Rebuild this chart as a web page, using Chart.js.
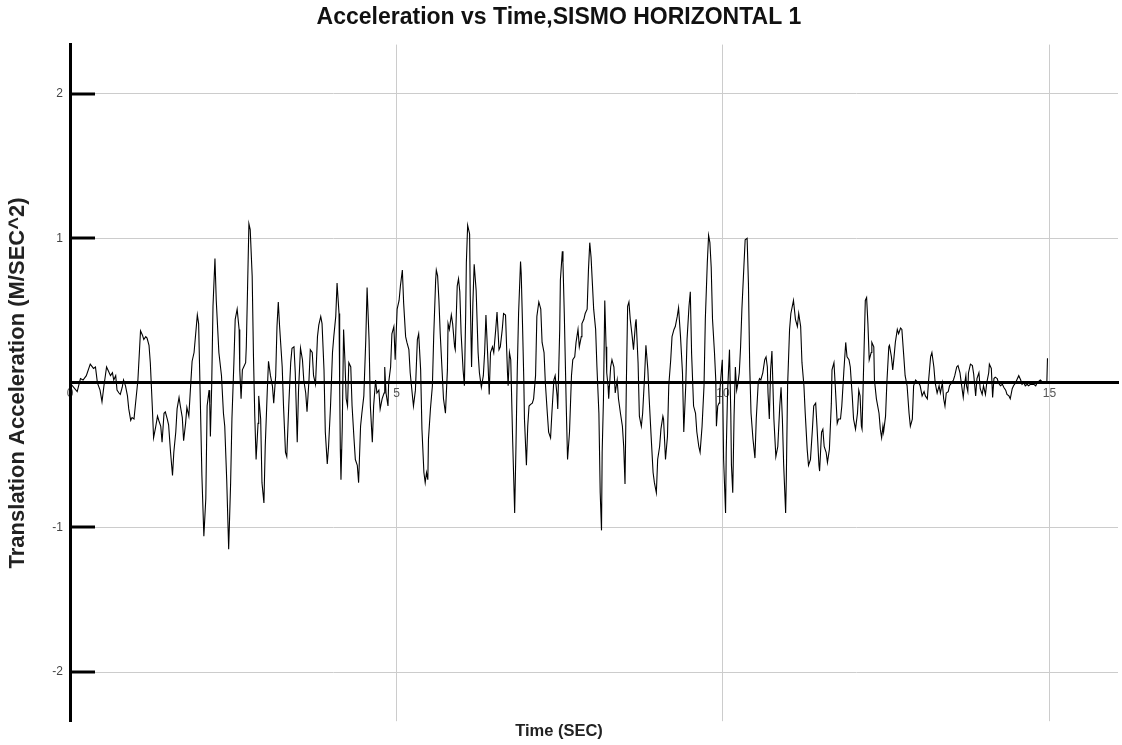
<!DOCTYPE html>
<html>
<head>
<meta charset="utf-8">
<title>Acceleration vs Time</title>
<script src="https://cdn.jsdelivr.net/npm/chart.js@4.4.0/dist/chart.umd.min.js"></script>
<style>
  html, body { margin: 0; padding: 0; background: #fff; }
  #wrap { width: 1122px; height: 745px; }
</style>
</head>
<body>
<div id="wrap"><canvas id="chart" width="1122" height="745"></canvas></div>
<script>
// ground motion record: time (s) and acceleration (m/s^2)
const timeSec = [
  0.00, 0.11, 0.16, 0.20, 0.25, 0.31, 0.36, 0.39, 0.42, 0.46, 0.49, 0.52, 0.56, 0.59, 0.62, 0.65, 0.67, 0.70, 0.72, 0.75,
  0.77, 0.80, 0.82, 0.85, 0.88, 0.90, 0.93, 0.95, 0.98, 1.00, 1.04, 1.08, 1.11, 1.13, 1.16, 1.18, 1.21, 1.23, 1.26, 1.28,
  1.31, 1.34, 1.36, 1.39, 1.41, 1.44, 1.46, 1.49, 1.51, 1.54, 1.57, 1.59, 1.62, 1.64, 1.67, 1.69, 1.72, 1.74, 1.77, 1.79,
  1.82, 1.85, 1.87, 1.90, 1.95, 1.97, 2.00, 2.02, 2.05, 2.08, 2.10, 2.13, 2.14, 2.15, 2.17, 2.19, 2.22, 2.24, 2.28, 2.32,
  2.35, 2.37, 2.40, 2.43, 2.46, 2.48, 2.51, 2.53, 2.56, 2.59, 2.60, 2.62, 2.64, 2.66, 2.69, 2.70, 2.72, 2.74, 2.76, 2.79,
  2.81, 2.83, 2.85, 2.88, 2.89, 2.92, 2.94, 2.97, 2.99, 3.02, 3.04, 3.07, 3.10, 3.12, 3.15, 3.17, 3.19, 3.21, 3.25, 3.27,
  3.30, 3.32, 3.35, 3.38, 3.40, 3.43, 3.45, 3.48, 3.50, 3.53, 3.56, 3.58, 3.61, 3.63, 3.66, 3.68, 3.71, 3.73, 3.76, 3.79,
  3.81, 3.84, 3.86, 3.89, 3.91, 3.94, 3.96, 3.99, 4.02, 4.04, 4.07, 4.09, 4.12, 4.13, 4.14, 4.15, 4.17, 4.19, 4.21, 4.23,
  4.25, 4.27, 4.30, 4.32, 4.35, 4.37, 4.40, 4.42, 4.45, 4.47, 4.50, 4.53, 4.55, 4.58, 4.60, 4.63, 4.65, 4.68, 4.70, 4.73,
  4.75, 4.78, 4.81, 4.82, 4.84, 4.87, 4.88, 4.91, 4.93, 4.96, 4.98, 5.01, 5.04, 5.06, 5.09, 5.11, 5.14, 5.16, 5.19, 5.21,
  5.24, 5.26, 5.29, 5.32, 5.34, 5.37, 5.39, 5.42, 5.44, 5.46, 5.48, 5.49, 5.52, 5.55, 5.57, 5.60, 5.61, 5.63, 5.65, 5.67,
  5.70, 5.72, 5.75, 5.78, 5.79, 5.81, 5.84, 5.86, 5.89, 5.90, 5.93, 5.95, 5.97, 5.99, 6.02, 6.04, 6.06, 6.07, 6.09, 6.12,
  6.13, 6.15, 6.17, 6.19, 6.22, 6.25, 6.27, 6.30, 6.33, 6.35, 6.37, 6.40, 6.42, 6.44, 6.47, 6.49, 6.52, 6.54, 6.57, 6.59,
  6.62, 6.64, 6.67, 6.70, 6.71, 6.73, 6.75, 6.78, 6.81, 6.83, 6.85, 6.87, 6.90, 6.91, 6.93, 6.95, 6.96, 6.99, 7.01, 7.03,
  7.05, 7.08, 7.10, 7.13, 7.15, 7.18, 7.21, 7.23, 7.26, 7.28, 7.31, 7.33, 7.36, 7.38, 7.41, 7.43, 7.46, 7.47, 7.50, 7.51,
  7.54, 7.55, 7.57, 7.60, 7.62, 7.65, 7.68, 7.70, 7.73, 7.75, 7.78, 7.80, 7.83, 7.84, 7.87, 7.89, 7.92, 7.94, 7.96, 7.98,
  8.00, 8.02, 8.05, 8.07, 8.10, 8.12, 8.14, 8.15, 8.17, 8.19, 8.21, 8.22, 8.24, 8.25, 8.28, 8.30, 8.33, 8.35, 8.38, 8.40,
  8.43, 8.46, 8.48, 8.50, 8.52, 8.54, 8.56, 8.58, 8.61, 8.63, 8.66, 8.67, 8.70, 8.72, 8.75, 8.77, 8.80, 8.82, 8.85, 8.87,
  8.90, 8.93, 8.95, 8.98, 9.00, 9.03, 9.05, 9.08, 9.09, 9.12, 9.15, 9.17, 9.20, 9.22, 9.25, 9.27, 9.30, 9.32, 9.35, 9.38,
  9.40, 9.43, 9.45, 9.48, 9.50, 9.52, 9.55, 9.58, 9.60, 9.63, 9.65, 9.68, 9.71, 9.73, 9.76, 9.78, 9.80, 9.82, 9.84, 9.87,
  9.89, 9.90, 9.92, 9.94, 9.95, 9.98, 9.99, 10.01, 10.04, 10.05, 10.07, 10.10, 10.12, 10.13, 10.15, 10.17, 10.19, 10.21, 10.23, 10.25,
  10.27, 10.29, 10.32, 10.34, 10.37, 10.39, 10.41, 10.43, 10.46, 10.49, 10.51, 10.54, 10.56, 10.58, 10.61, 10.64, 10.66, 10.68, 10.69, 10.71,
  10.73, 10.75, 10.78, 10.81, 10.84, 10.87, 10.89, 10.91, 10.93, 10.96, 10.97, 10.99, 11.02, 11.04, 11.08, 11.11, 11.14, 11.16, 11.19, 11.21,
  11.24, 11.26, 11.29, 11.31, 11.34, 11.37, 11.39, 11.42, 11.44, 11.47, 11.48, 11.51, 11.53, 11.55, 11.58, 11.60, 11.63, 11.66, 11.67, 11.70,
  11.72, 11.75, 11.77, 11.80, 11.82, 11.85, 11.88, 11.90, 11.93, 11.95, 11.98, 12.00, 12.03, 12.06, 12.08, 12.10, 12.12, 12.13, 12.16, 12.18,
  12.20, 12.22, 12.24, 12.27, 12.28, 12.31, 12.32, 12.35, 12.39, 12.41, 12.43, 12.45, 12.46, 12.49, 12.51, 12.54, 12.55, 12.58, 12.60, 12.62,
  12.64, 12.67, 12.69, 12.72, 12.74, 12.77, 12.79, 12.82, 12.85, 12.87, 12.90, 12.92, 12.95, 12.97, 13.00, 13.02, 13.05, 13.08, 13.10, 13.13,
  13.15, 13.18, 13.20, 13.23, 13.25, 13.28, 13.31, 13.33, 13.36, 13.38, 13.40, 13.42, 13.45, 13.47, 13.50, 13.53, 13.55, 13.58, 13.60, 13.63,
  13.65, 13.68, 13.70, 13.72, 13.73, 13.75, 13.76, 13.79, 13.82, 13.84, 13.87, 13.89, 13.92, 13.94, 13.97, 13.99, 14.02, 14.04, 14.07, 14.08,
  14.11, 14.13, 14.15, 14.17, 14.20, 14.22, 14.25, 14.28, 14.30, 14.33, 14.35, 14.38, 14.40, 14.43, 14.45, 14.48, 14.51, 14.53, 14.56, 14.58,
  14.61, 14.63, 14.66, 14.68, 14.71, 14.73, 14.76, 14.79, 14.81, 14.86, 14.91, 14.96, 14.97
]

const accel = [
  0.00, -0.06, 0.03, 0.02, 0.05, 0.13, 0.10, 0.11, 0.00, -0.05, -0.13, -0.02, 0.11, 0.08, 0.05, 0.07, 0.02, 0.05, -0.05, -0.07,
  -0.08, -0.03, 0.02, -0.02, -0.09, -0.18, -0.26, -0.24, -0.25, -0.16, 0.02, 0.36, 0.33, 0.30, 0.32, 0.31, 0.26, 0.14, -0.16, -0.38,
  -0.31, -0.23, -0.26, -0.30, -0.41, -0.21, -0.20, -0.25, -0.29, -0.48, -0.64, -0.48, -0.34, -0.18, -0.10, -0.16, -0.24, -0.40, -0.28, -0.17,
  -0.23, 0.00, 0.15, 0.21, 0.47, 0.41, -0.21, -0.64, -1.06, -0.80, -0.16, -0.05, -0.14, -0.37, -0.02, 0.53, 0.86, 0.57, 0.21, 0.05,
  -0.21, -0.30, -0.67, -1.15, -0.69, -0.25, 0.14, 0.44, 0.51, 0.37, 0.09, -0.11, 0.09, 0.11, 0.14, 0.25, 0.67, 1.10, 1.06, 0.74,
  0.18, -0.23, -0.53, -0.28, -0.09, -0.25, -0.69, -0.83, -0.44, -0.07, 0.15, 0.05, -0.02, -0.14, 0.05, 0.39, 0.56, 0.39, 0.11, -0.16,
  -0.48, -0.51, -0.16, 0.14, 0.24, 0.25, 0.07, -0.41, -0.05, 0.24, 0.16, 0.02, -0.07, -0.20, 0.02, 0.23, 0.21, 0.05, -0.01, 0.32,
  0.40, 0.46, 0.41, 0.09, -0.34, -0.56, -0.44, -0.16, 0.21, 0.32, 0.46, 0.69, 0.48, -0.02, -0.46, -0.67, -0.30, 0.37, 0.16, -0.11,
  -0.16, 0.14, 0.11, -0.16, -0.39, -0.53, -0.57, -0.69, -0.30, -0.21, -0.09, 0.30, 0.66, 0.30, -0.16, -0.41, -0.16, 0.02, -0.07, -0.05,
  -0.18, -0.11, -0.07, 0.11, -0.07, -0.16, 0.00, 0.11, 0.34, 0.39, 0.16, 0.51, 0.57, 0.67, 0.78, 0.55, 0.32, 0.28, 0.23, 0.07,
  -0.07, -0.16, -0.05, 0.30, 0.34, 0.09, -0.32, -0.62, -0.69, -0.62, -0.67, -0.39, -0.18, -0.02, 0.32, 0.71, 0.78, 0.74, 0.57, 0.34,
  0.07, -0.11, -0.21, 0.09, 0.41, 0.37, 0.47, 0.41, 0.25, 0.23, 0.67, 0.72, 0.63, 0.34, 0.09, -0.02, 0.48, 0.83, 1.09, 1.03,
  0.60, 0.11, 0.55, 0.82, 0.64, 0.21, 0.07, -0.03, 0.05, 0.21, 0.47, 0.16, -0.08, 0.21, 0.25, 0.21, 0.37, 0.49, 0.23, 0.25,
  0.37, 0.48, 0.47, 0.07, -0.02, 0.21, 0.16, -0.41, -0.90, -0.44, 0.09, 0.48, 0.84, 0.76, 0.41, 0.02, -0.25, -0.57, -0.30, -0.16,
  -0.15, -0.14, -0.11, 0.05, 0.46, 0.56, 0.51, 0.28, 0.21, 0.00, -0.21, -0.34, -0.38, -0.21, 0.02, 0.05, -0.09, -0.18, 0.37, 0.71,
  0.91, 0.83, 0.48, -0.16, -0.53, -0.34, 0.05, 0.16, 0.18, 0.28, 0.37, 0.25, 0.32, 0.41, 0.44, 0.48, 0.51, 0.78, 0.97, 0.87,
  0.69, 0.51, 0.37, 0.11, -0.21, -0.76, -1.02, -0.48, -0.11, 0.57, 0.25, 0.07, -0.02, -0.11, 0.11, 0.16, 0.11, -0.07, 0.02, -0.11,
  -0.21, -0.30, -0.44, -0.70, -0.02, 0.53, 0.56, 0.44, 0.32, 0.23, 0.41, 0.44, 0.14, -0.23, -0.30, -0.21, 0.05, 0.26, 0.09, -0.11,
  -0.37, -0.62, -0.69, -0.76, -0.53, -0.44, -0.32, -0.23, -0.25, -0.53, -0.37, -0.02, 0.16, 0.32, 0.37, 0.39, 0.46, 0.52, 0.32, 0.07,
  -0.34, -0.02, 0.30, 0.53, 0.63, 0.20, -0.16, -0.21, -0.34, -0.44, -0.48, -0.30, -0.02, 0.44, 0.83, 1.02, 0.97, 0.80, 0.44, 0.21,
  0.02, -0.30, -0.16, -0.14, -0.07, 0.11, 0.16, -0.53, -0.90, -0.48, -0.07, 0.23, -0.21, -0.57, -0.76, -0.23, 0.11, -0.05, 0.00, 0.07,
  0.25, 0.51, 0.80, 0.99, 1.00, 0.69, 0.11, -0.21, -0.39, -0.52, -0.25, 0.00, 0.03, 0.02, 0.07, 0.16, 0.18, 0.11, -0.07, -0.25,
  0.09, 0.22, -0.25, -0.51, -0.44, -0.16, -0.03, -0.25, -0.57, -0.90, -0.67, -0.02, 0.37, 0.48, 0.57, 0.44, 0.39, 0.48, 0.39, 0.14,
  -0.02, -0.21, -0.46, -0.57, -0.53, -0.32, -0.16, -0.14, -0.30, -0.57, -0.61, -0.34, -0.32, -0.44, -0.48, -0.55, -0.46, -0.14, 0.09, 0.14,
  -0.02, -0.28, -0.25, -0.25, -0.16, 0.07, 0.28, 0.18, 0.16, 0.11, -0.09, -0.25, -0.32, -0.21, -0.05, -0.09, -0.30, -0.32, 0.21, 0.57,
  0.59, 0.41, 0.16, 0.21, 0.28, 0.25, 0.02, -0.11, -0.21, -0.32, -0.38, -0.30, -0.34, -0.23, 0.00, 0.25, 0.26, 0.18, 0.09, 0.18,
  0.28, 0.37, 0.34, 0.38, 0.37, 0.18, 0.05, -0.02, -0.21, -0.30, -0.25, -0.02, 0.02, 0.01, 0.00, -0.02, -0.09, -0.06, -0.09, -0.11,
  0.02, 0.18, 0.21, 0.11, 0.00, -0.07, -0.02, -0.07, 0.00, -0.11, -0.16, -0.07, -0.06, -0.02, 0.00, 0.02, 0.05, 0.11, 0.12, 0.07,
  0.00, -0.10, -0.01, 0.05, -0.02, -0.06, 0.07, 0.13, 0.12, 0.06, -0.09, 0.03, 0.07, -0.04, -0.08, -0.02, -0.08, 0.00, 0.07, 0.13,
  0.10, -0.10, 0.03, 0.04, 0.03, 0.00, -0.02, -0.01, -0.03, -0.05, -0.08, -0.09, -0.11, -0.04, -0.02, 0.00, 0.03, 0.05, 0.02, -0.01,
  0.00, -0.02, -0.01, -0.02, -0.01, -0.01, -0.01, -0.02, 0.00, 0.02, 0.00, 0.00, 0.17
]

const xTicks = [0, 5, 10, 15]
const yTicks = [-2, -1, 0, 1, 2]
const xMax = 16.05
const yLim = 2.34

Chart.defaults.font.family = "'Liberation Sans', Arial, sans-serif"

// short black tick marks drawn on the inner side of the y axis
const innerTicks = {
  id: 'innerTicks',
  afterDraw(chart) {
    const { ctx, chartArea, scales: { y } } = chart
    ctx.save()
    ctx.strokeStyle = '#000'
    ctx.lineWidth = 3
    y.ticks.forEach(t => {
      if (t.value === 0) return
      const py = Math.round(y.getPixelForValue(t.value))
      ctx.beginPath()
      ctx.moveTo(chartArea.left, py)
      ctx.lineTo(chartArea.left + 25, py)
      ctx.stroke()
    })
    ctx.restore()
  }
}

const hideZero = c => (c.tick && c.tick.value === 0 ? 'rgba(0,0,0,0)' : '#cccccc')

new Chart(document.getElementById('chart'), {
  type: 'line',
  data: {
    datasets: [{
      data: timeSec.map((t, i) => ({ x: t, y: accel[i] })),
      borderColor: '#000',
      borderWidth: 1.1,
      pointRadius: 0,
      tension: 0
    }]
  },
  options: {
    responsive: false,
    animation: false,
    layout: { padding: { top: 0, right: 4, bottom: 2, left: 0 } },
    plugins: {
      legend: { display: false },
      tooltip: { enabled: false },
      title: {
        display: true,
        text: 'Acceleration vs Time,SISMO HORIZONTAL 1',
        color: '#111',
        font: { size: 23, weight: 'bold' },
        padding: { top: 4, bottom: 13 }
      },
      subtitle: {
        display: true,
        position: 'bottom',
        text: 'Time (SEC)',
        color: '#222',
        font: { size: 16.5, weight: 'bold' },
        padding: { top: 0, bottom: 2 }
      }
    },
    scales: {
      x: {
        type: 'linear',
        position: { y: 0 },
        min: 0,
        max: xMax,
        afterBuildTicks: s => { s.ticks = xTicks.map(value => ({ value })) },
        grid: { color: hideZero, lineWidth: 1, drawTicks: false },
        border: { color: '#000', width: 3 },
        ticks: { color: '#555', font: { size: 12 }, padding: 4, maxRotation: 0 }
      },
      y: {
        type: 'linear',
        position: 'left',
        min: -yLim,
        max: yLim,
        afterBuildTicks: s => { s.ticks = yTicks.map(value => ({ value })) },
        afterFit: s => { s.width = 70 },
        grid: { color: hideZero, lineWidth: 1, drawTicks: false },
        border: { color: '#000', width: 3 },
        ticks: { color: '#444', font: { size: 12 }, padding: 7, callback: v => (v === 0 ? '' : v) },
        title: {
          display: true,
          text: 'Translation Acceleration (M/SEC^2)',
          color: '#222',
          font: { size: 22, weight: 'bold' },
          padding: { top: 5, bottom: 0 }
        }
      }
    }
  },
  plugins: [innerTicks]
})
</script>
</body>
</html>
